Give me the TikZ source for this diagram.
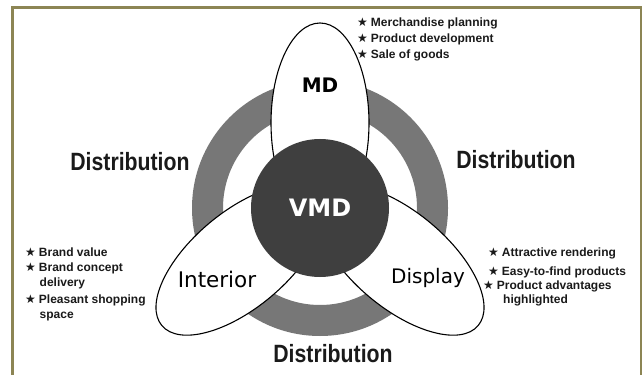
\documentclass[tikz,border=0pt]{standalone}
\usepackage{fontspec}
\setmainfont{Liberation Sans}
\newfontfamily\dv{DejaVu Sans}
\usetikzlibrary{shapes.geometric}
\definecolor{framecol}{HTML}{8C8554}
\definecolor{ringcol}{HTML}{777777}
\definecolor{hubcol}{HTML}{3F3F3F}
\definecolor{txt}{HTML}{1A1A1A}
\newcommand{\bstar}{{\dv\mdseries ★}\hspace{3pt}}
\begin{document}
\begin{tikzpicture}[x=1pt,y=1pt,
  petal/.style={draw=black, fill=white, line width=1.1pt},
  bul/.style={anchor=west, inner sep=0pt, font=\bfseries\fontsize{12}{14}\selectfont, text=txt},
  dist/.style={inner sep=0pt, font=\bfseries\fontsize{25}{28}\selectfont, text=txt},
  lab/.style={inner sep=0pt, text=black}]
\useasboundingbox (0,0) rectangle (642,375);
\fill[white] (0,0) rectangle (642,375);
% frame
\fill[framecol] (11,0) rectangle (14,369);
\fill[framecol] (11,366) rectangle (642,369);
\fill[framecol] (640,0) rectangle (642,369);
% ring
\fill[ringcol, even odd rule] (320,167) circle (128pt) (320,167) circle (97pt);
% petals
\draw[petal] (320,252) ellipse [x radius=49pt, y radius=100pt];
\draw[petal, rotate around={40:(240,115)}] (240,115) ellipse [x radius=102pt, y radius=48pt];
\draw[petal, rotate around={-40:(400,115)}] (400,115) ellipse [x radius=102pt, y radius=48pt];
% hub
\fill[hubcol] (320,167) circle (69pt);
\node[lab, font=\dv\bfseries\fontsize{24}{28}\selectfont, text=white] (vmd) at (320,167) {VMD};
\node[lab, font=\dv\bfseries\fontsize{20}{24}\selectfont] (md) at (320,290) {MD};
\node[lab, font=\dv\fontsize{21.5}{24}\selectfont] (interior) at (217,96) {Interior};
\node[lab, font=\dv\fontsize{20}{24}\selectfont] (display) at (428,97) {Display};
% distribution
\node[dist] (distl) at (130,213) {\scalebox{0.85}[1]{Distribution}};
\node[dist] (distr) at (516,215) {\scalebox{0.85}[1]{Distribution}};
\node[dist] (distb) at (333,21) {\scalebox{0.85}[1]{Distribution}};
% MD list
\node[bul] (m1) at (357,352) {\bstar Merchandise planning};
\node[bul] (m2) at (357,336) {\bstar Product development};
\node[bul] (m3) at (357,320) {\bstar Sale of goods};
% Interior list
\node[bul] (i1) at (25,123) {\bstar Brand value};
\node[bul] (i2) at (25,107) {\bstar Brand concept};
\node[bul] (i3) at (39.5,92) {delivery};
\node[bul] (i4) at (25,75) {\bstar Pleasant shopping};
\node[bul] (i5) at (39.5,58) {space};
% Display list
\node[bul] (d1) at (488,122) {\bstar Attractive rendering};
\node[bul] (d2) at (488,103) {\bstar Easy-to-find products};
\node[bul] (d3) at (483,89) {\bstar Product advantages};
\node[bul] (d4) at (503,75) {highlighted};
\end{tikzpicture}
\end{document}
